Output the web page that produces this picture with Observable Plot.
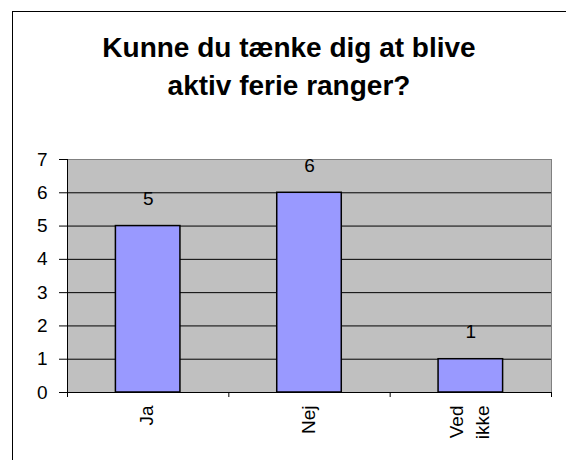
<!DOCTYPE html>
<html>
<head>
<meta charset="utf-8">
<script src="https://cdn.jsdelivr.net/npm/d3@7"></script>
<script src="https://cdn.jsdelivr.net/npm/@observablehq/plot@0.6"></script>
<style>
  html, body { margin: 0; padding: 0; background: #fff; overflow: hidden; }
  #wrap { position: relative; width: 566px; height: 460px; overflow: hidden; font-family: "Liberation Sans", Arial, sans-serif; }
  #border { position: absolute; left: 12px; top: 11px; width: 700px; height: 600px; border-left: 1px solid #000; border-top: 1px solid #000; }
  #title { position: absolute; left: 12px; top: 29px; width: 554px; text-align: center; font-weight: bold; font-size: 28px; line-height: 38px; color: #000; }
  #chart { position: absolute; left: 0; top: 120px; }
</style>
</head>
<body>
<div id="wrap">
  <div id="border"></div>
  <div id="title">Kunne du tænke dig at blive<br>aktiv ferie ranger?</div>
  <div id="chart"></div>
</div>
<script>
const categories = ["Ja", "Nej", "Ved ikke"];
const values = [5, 6, 1];
const yTicks = [0, 1, 2, 3, 4, 5, 6, 7];
const gridValues = [1, 2, 3, 4, 5, 6];

const data = categories.map((c, i) => ({category: c, value: values[i]}));

const width = 566, height = 340;
const marginLeft = 67, marginRight = 15, marginTop = 39, marginBottom = 68;
const paddingInner = 0.6, paddingOuter = 0.3;
const step = (width - marginLeft - marginRight) / (categories.length - paddingInner + 2 * paddingOuter);
const fs = 19;

const chart = Plot.plot({
  width, height, marginLeft, marginRight, marginTop, marginBottom,
  style: {background: "transparent", fontFamily: "'Liberation Sans', Arial, sans-serif", fontSize: fs + "px", color: "#000"},
  x: {domain: categories, paddingInner, paddingOuter, round: false, label: null},
  y: {domain: [0, 7], label: null},
  marks: [
    Plot.frame({fill: "#C0C0C0", stroke: "#808080"}),
    Plot.ruleY(gridValues, {stroke: "#000", strokeWidth: 1}),
    Plot.barY(data, {x: "category", y: "value", fill: "#9999FF", stroke: "#000", strokeWidth: 1.5}),
    Plot.ruleY([0], {stroke: "#000", strokeWidth: 1}),
    Plot.ruleX([categories[0]], {stroke: "#000", strokeWidth: 1, dx: -step / 2}),
    Plot.axisY({ticks: yTicks, tickSize: 8, tickPadding: 12, fontSize: fs, tickFormat: d => String(d)}),
    Plot.axisX({ticks: categories, tickSize: 5, tickFormat: () => "", dx: -step / 2}),
    Plot.axisX({ticks: [categories[categories.length - 1]], tickSize: 5, tickFormat: () => "", dx: step / 2}),
    Plot.axisX({ticks: categories, tickSize: 0, tickPadding: 13, tickRotate: -90, fontSize: fs, lineHeight: 1.35, dx: -3, tickFormat: d => d.replace(" ", "\n")}),
    Plot.text(data, {x: "category", y: "value", text: d => String(d.value), dy: -27, fontSize: fs, fill: "#000"})
  ]
});
document.getElementById("chart").appendChild(chart);
</script>
</body>
</html>
